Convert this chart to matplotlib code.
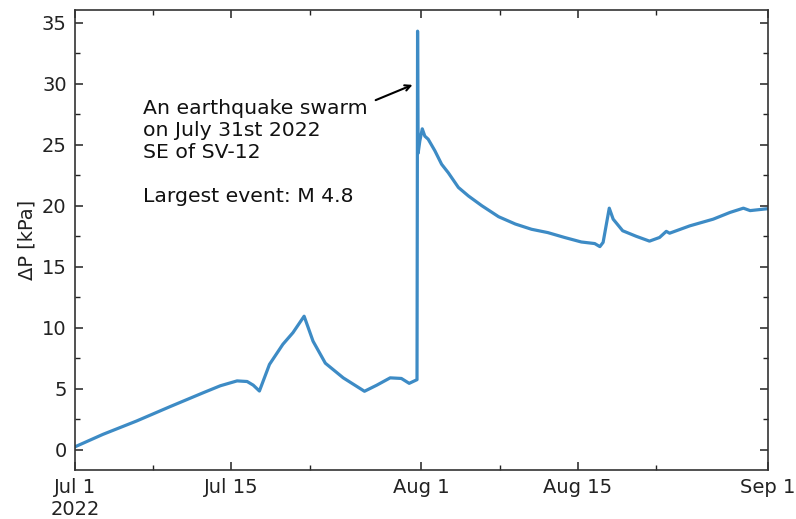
import matplotlib
matplotlib.use("Agg")
import matplotlib.pyplot as plt
import matplotlib.dates as mdates
from matplotlib.ticker import FixedLocator, MultipleLocator
import pandas as pd

# ---- data (days since 2022-07-01, pressure change in kPa) ----
start_date = "2022-07-01"
day_offsets = [0.0, 2.5, 5.5, 8.5, 11.5, 13.0, 14.5, 15.4, 15.95, 16.5,
               17.4, 18.6, 19.5, 20.5, 21.3, 22.4, 24.0, 25.9, 27.0, 28.2,
               29.2, 29.9, 30.6, 30.65, 30.7, 30.85, 31.07, 31.3, 31.6, 32.2,
               32.8, 33.4, 34.3, 35.2, 36.4, 37.9, 39.4, 40.85, 42.3, 43.8,
               45.3, 46.5, 46.96, 47.25, 47.8, 48.15, 49.0, 50.2, 51.4, 52.3,
               52.9, 53.2, 55.0, 57.1, 58.6, 59.8, 60.4, 61.9, 62.0]
dp_kpa = [0.25, 1.27, 2.36, 3.54, 4.69, 5.25, 5.65, 5.6, 5.3, 4.82,
          7.0, 8.65, 9.6, 10.95, 8.9, 7.1, 5.9, 4.8, 5.3, 5.9,
          5.85, 5.45, 5.75, 34.3, 24.3, 25.3, 26.3, 25.7, 25.45, 24.5,
          23.4, 22.7, 21.5, 20.8, 20.0, 19.1, 18.5, 18.07, 17.8, 17.4,
          17.03, 16.9, 16.65, 17.0, 19.8, 18.9, 17.95, 17.5, 17.1, 17.4,
          17.9, 17.75, 18.35, 18.9, 19.45, 19.8, 19.6, 19.75, 19.75]

tick_dates = ["2022-07-01", "2022-07-15", "2022-08-01", "2022-08-15", "2022-09-01"]
tick_labels = ["Jul 1\n2022", "Jul 15", "Aug 1", "Aug 15", "Sep 1"]
minor_dates = ["2022-07-08", "2022-07-22", "2022-08-08", "2022-08-22"]

annotation_text = "An earthquake swarm\non July 31st 2022\nSE of SV-12\n\nLargest event: M 4.8"

t0 = pd.Timestamp(start_date)
times = [t0 + pd.Timedelta(days=d) for d in day_offsets]

fig = plt.figure(figsize=(7.96, 5.19), dpi=100)
ax = fig.add_axes([0.0942, 0.0944, 0.8706, 0.8867])

ax.plot(times, dp_kpa, color="#3d8bc5", lw=2.3)

ax.set_xlim(pd.Timestamp(tick_dates[0]), pd.Timestamp(tick_dates[-1]))
ax.set_ylim(-1.65, 36.05)

ax.xaxis.set_major_locator(FixedLocator([mdates.date2num(pd.Timestamp(d)) for d in tick_dates]))
ax.xaxis.set_minor_locator(FixedLocator([mdates.date2num(pd.Timestamp(d)) for d in minor_dates]))
ax.set_xticklabels(tick_labels)
ax.yaxis.set_major_locator(MultipleLocator(5))
ax.yaxis.set_minor_locator(MultipleLocator(2.5))

ax.tick_params(axis="both", which="both", direction="in", top=True, right=True,
               colors="#222222", labelsize=14)
ax.tick_params(which="major", length=6, width=1.1, pad=6)
ax.tick_params(which="minor", length=3.5, width=1.0)
for s in ax.spines.values():
    s.set_linewidth(1.2)
    s.set_color("#333333")

ax.set_ylabel("ΔP [kPa]", fontsize=14, color="#222222", labelpad=4)

ax.text(t0 + pd.Timedelta(days=6.08), 28.75, annotation_text, fontsize=14.7,
        ha="left", va="top", color="#111111", linespacing=1.2)
ax.annotate("", xy=(t0 + pd.Timedelta(days=30.2), 29.9),
            xytext=(t0 + pd.Timedelta(days=26.9), 28.65),
            arrowprops=dict(arrowstyle="->", color="black", lw=1.5,
                            shrinkA=0, shrinkB=0))

fig.savefig("out.png", dpi=100)
